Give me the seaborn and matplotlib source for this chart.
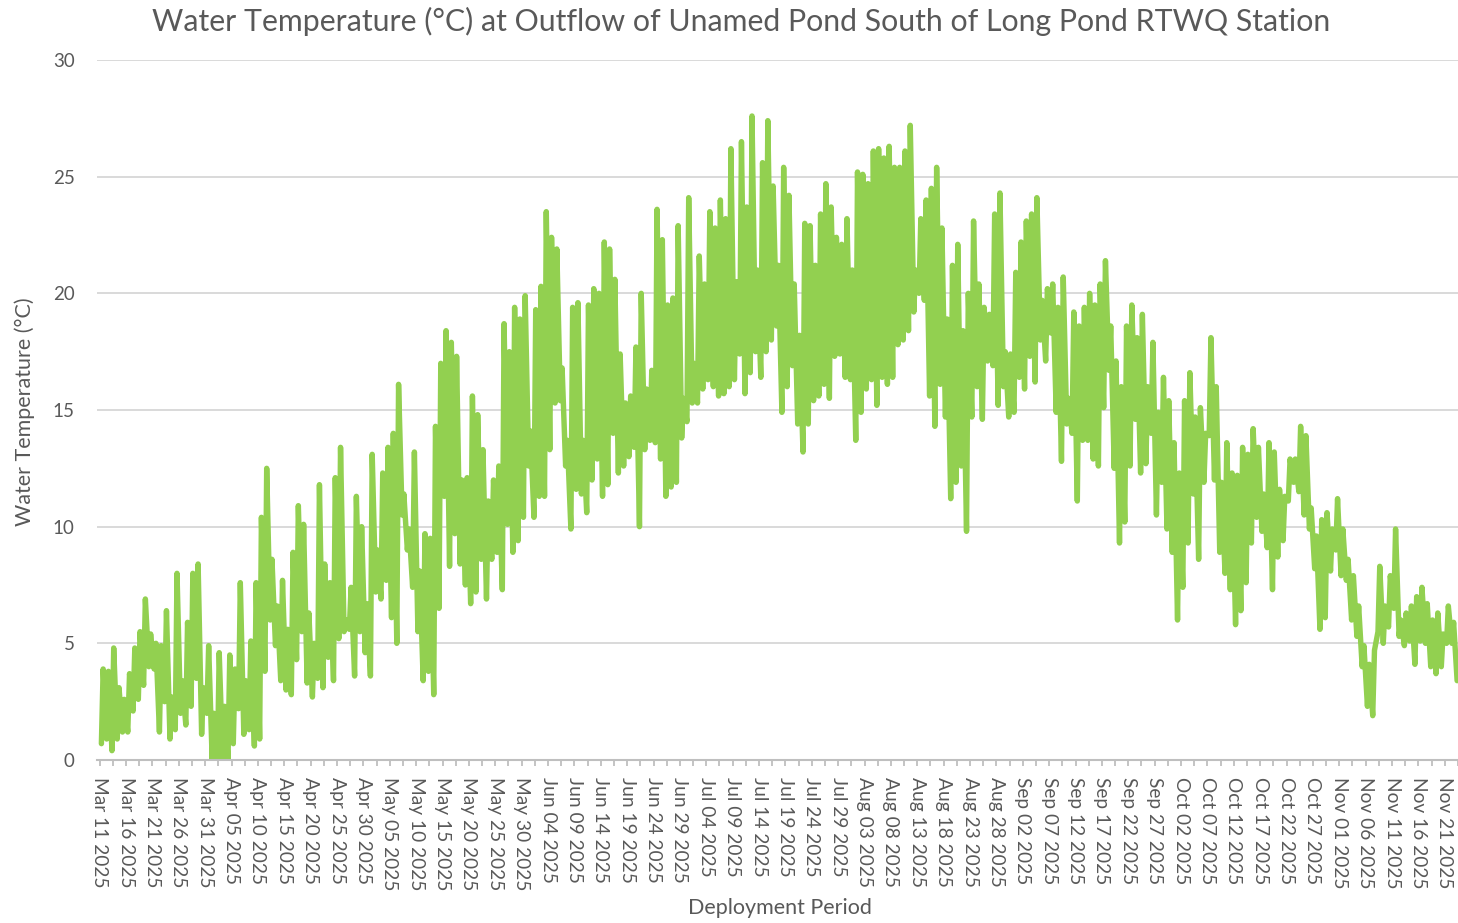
import numpy as np
import pandas as pd
import matplotlib
matplotlib.use("Agg")
import matplotlib.pyplot as plt
import seaborn as sns

# ---------------- data ----------------
start_date = "2025-03-11"
tick_step_hours = 60          # axis ticks every 2.5 days, labels every 5 days

# daily high (afternoon) water temperature, °C, from Mar 11 2025
daily_high = [
    3.9, 3.8, 4.8, 3.1, 2.6, 3.7, 4.8, 5.5, 6.9, 5.4,
    5.0, 4.9, 6.4, 2.7, 8.0, 3.4, 5.9, 8.0, 8.4, 3.1,
    4.9, 2.0, 4.6, 2.3, 4.5, 3.9, 7.6, 3.4, 5.1, 7.6,
    10.4, 12.5, 8.6, 6.6, 7.7, 5.6, 8.9, 10.9, 10.1, 6.3,
    5.0, 11.8, 8.4, 7.6, 12.1, 13.4, 6.0, 7.4, 11.3, 10.0,
    6.7, 13.1, 9.0, 12.3, 13.4, 14.0, 16.1, 11.4, 9.9, 13.2,
    8.1, 9.7, 9.5, 14.3, 17.0, 18.4, 17.9, 17.3, 12.0, 12.1,
    15.6, 14.8, 13.3, 11.1, 12.0, 12.6, 18.7, 17.5, 19.4, 18.9,
    19.9, 14.1, 19.3, 20.3, 23.5, 22.4, 21.9, 16.8, 13.7, 19.4,
    19.6, 13.7, 19.5, 20.2, 20.0, 22.2, 21.9, 20.6, 17.4, 15.3,
    15.6, 17.7, 20.0, 15.9, 16.7, 23.6, 22.3, 19.5, 19.8, 22.9,
    15.5, 24.1, 17.0, 21.6, 20.4, 23.5, 22.8, 24.0, 23.2, 26.2,
    20.5, 26.5, 23.7, 27.6, 21.0, 25.6, 27.4, 24.6, 21.2, 25.4,
    24.2, 20.4, 18.2, 23.0, 22.9, 21.2, 23.4, 24.7, 23.7, 22.4,
    22.1, 23.2, 21.0, 25.2, 25.1, 24.7, 26.1, 26.2, 25.8, 26.3,
    25.4, 25.4, 26.1, 27.2, 21.0, 23.2, 24.0, 24.5, 25.4, 22.8,
    18.9, 21.2, 22.1, 18.4, 20.0, 23.1, 20.4, 19.4, 19.1, 23.4,
    24.3, 17.5, 17.4, 20.9, 22.2, 23.1, 23.4, 24.1, 19.7, 20.2,
    20.4, 19.4, 20.7, 15.5, 19.2, 18.6, 19.4, 20.0, 19.5, 20.4,
    21.4, 18.6, 17.1, 16.0, 18.6, 19.5, 18.1, 19.1, 16.0, 17.9,
    14.9, 16.4, 15.4, 13.6, 12.3, 15.4, 16.6, 14.7, 15.1, 14.0,
    18.1, 16.0, 11.9, 13.6, 12.3, 12.2, 13.4, 13.1, 14.2, 13.4,
    11.4, 13.6, 13.2, 11.6, 11.3, 12.9, 12.9, 14.3, 13.9, 10.8,
    9.6, 10.3, 10.6, 9.9, 11.2, 9.9, 8.6, 7.9, 6.6, 4.9,
    4.1, 4.7, 8.3, 6.6, 7.9, 9.9, 6.0, 6.3, 6.6, 7.0,
    7.4, 6.7, 6.0, 6.3, 5.4, 6.6, 5.9,
]

# daily low (morning) water temperature, °C, from Mar 11 2025
daily_low = [
    0.7, 0.9, 0.4, 0.9, 1.2, 1.2, 2.1, 2.6, 3.2, 4.0,
    3.9, 1.2, 2.5, 0.9, 1.3, 2.0, 1.5, 2.3, 3.5, 1.1,
    2.0, 0.0, 0.0, 0.0, 0.0, 0.7, 2.2, 1.1, 1.3, 0.6,
    0.9, 3.8, 6.0, 4.9, 3.4, 3.0, 2.8, 4.3, 5.5, 3.3,
    2.7, 3.5, 3.1, 4.4, 3.4, 5.2, 5.5, 5.6, 3.6, 5.5,
    4.6, 3.6, 7.2, 6.9, 7.7, 6.1, 5.0, 10.5, 9.0, 7.4,
    5.5, 3.4, 3.8, 2.8, 6.5, 11.3, 8.3, 9.7, 8.4, 7.5,
    6.7, 7.2, 8.6, 6.9, 8.6, 8.9, 7.3, 10.1, 8.9, 9.4,
    10.4, 12.6, 10.4, 11.3, 11.3, 13.3, 15.3, 15.4, 12.6, 9.9,
    11.6, 11.4, 10.6, 12.0, 12.9, 11.3, 11.8, 14.0, 12.3, 12.6,
    13.0, 13.4, 10.0, 13.3, 13.7, 13.6, 12.9, 11.3, 11.7, 11.9,
    13.8, 14.5, 15.3, 15.3, 15.9, 16.3, 16.0, 15.6, 15.7, 16.0,
    16.3, 17.4, 15.7, 16.6, 17.5, 16.4, 17.5, 18.0, 18.6, 14.9,
    16.0, 16.9, 14.4, 13.2, 14.4, 15.4, 15.6, 16.1, 15.5, 17.3,
    17.4, 16.4, 16.3, 13.7, 14.9, 15.9, 16.3, 15.2, 16.4, 16.1,
    16.4, 17.8, 18.0, 18.4, 19.2, 20.0, 19.7, 15.6, 14.3, 16.1,
    14.7, 11.2, 11.9, 12.6, 9.8, 14.7, 16.0, 14.6, 17.1, 16.9,
    15.2, 16.0, 14.7, 14.9, 16.4, 15.9, 17.3, 16.2, 18.0, 17.1,
    18.3, 14.9, 12.8, 14.4, 14.0, 11.1, 13.7, 13.7, 12.9, 12.6,
    15.1, 16.7, 12.5, 9.3, 10.2, 12.6, 14.6, 12.3, 12.7, 14.0,
    10.5, 11.9, 9.9, 8.9, 6.0, 7.4, 9.3, 11.4, 8.6, 11.9,
    13.9, 12.0, 8.9, 8.0, 7.3, 5.8, 6.4, 7.6, 9.3, 10.4,
    9.8, 9.1, 7.3, 8.7, 9.4, 11.1, 11.9, 11.5, 10.5, 9.9,
    8.2, 5.6, 6.1, 8.1, 9.0, 7.9, 7.7, 6.0, 5.3, 4.0,
    2.3, 1.9, 5.5, 5.0, 5.7, 6.5, 5.3, 4.9, 5.1, 4.1,
    5.1, 5.0, 4.0, 3.7, 4.0, 5.0, 5.0, 3.4,
]

y_ticks = [0, 5, 10, 15, 20, 25, 30]
title_text = "Water Temperature (°C) at Outflow of Unamed Pond South of Long Pond RTWQ Station"
y_label = "Water Temperature (°C)"
x_label = "Deployment Period"

# ---------------- build the time series ----------------
days = pd.date_range(start_date, periods=len(daily_low), freq="D")
times, temps = [], []
for i, day in enumerate(days):
    times.append(day + pd.Timedelta(hours=8))
    temps.append(daily_low[i])
    if i < len(daily_high):
        times.append(day + pd.Timedelta(hours=16))
        temps.append(daily_high[i])
df = pd.DataFrame({"time": times, "temp": temps})

# ---------------- styling ----------------
sns.set_theme(style="white")
plt.rcParams["font.family"] = ["Lato", "DejaVu Sans"]
text_color = "#595959"

W, H = 1458, 923
fig = plt.figure(figsize=(W / 100, H / 100), dpi=100)
ax = fig.add_axes([97 / W, 1 - 760 / H, (1458 - 97) / W, 700 / H])

sns.lineplot(data=df, x="time", y="temp", ax=ax, color="#92d050", linewidth=3.9,
             estimator=None, sort=False, solid_joinstyle="round",
             solid_capstyle="round")

x_start = pd.Timestamp(start_date) - pd.Timedelta(hours=12)
x_end = days[-1] + pd.Timedelta(hours=12)
ax.set_xlim(x_start, x_end)
ax.set_ylim(0, 30)

ticks = pd.date_range(start_date, x_end, freq=f"{tick_step_hours}h")
labels = [t.strftime("%b %d %Y") if i % 2 == 0 else "" for i, t in enumerate(ticks)]
ax.set_xticks(ticks)
ax.set_xticklabels(labels, rotation=-90, ha="center", va="top",
                   fontsize=13.8, color=text_color)
ax.set_yticks(y_ticks)
ax.set_yticklabels([str(v) for v in y_ticks], fontsize=13.5, color=text_color)

ax.tick_params(axis="x", which="major", length=4, width=1.3, color="#bfbfbf",
               direction="out", pad=8, bottom=True)
ax.tick_params(axis="y", length=0, pad=16)

ax.grid(axis="y", color="#d9d9d9", linewidth=1.4)
ax.grid(axis="x", visible=False)
ax.set_axisbelow(True)
for side in ["left", "right", "top"]:
    ax.spines[side].set_visible(False)
ax.spines["bottom"].set_color("#bfbfbf")
ax.spines["bottom"].set_linewidth(1.5)
ax.spines["bottom"].set_zorder(5)

ax.set_xlabel("")
ax.set_ylabel("")
fig.text(741 / W, 1 - 21 / H, title_text, ha="center", va="center",
         fontsize=21.8, color=text_color)
fig.text(25 / W, 1 - 412 / H, y_label, rotation=90, ha="center", va="center",
         fontsize=15.5, color=text_color)
fig.text(780 / W, 1 - 908 / H, x_label, ha="center", va="center",
         fontsize=15.5, color=text_color)

fig.savefig("out.png", dpi=100)
